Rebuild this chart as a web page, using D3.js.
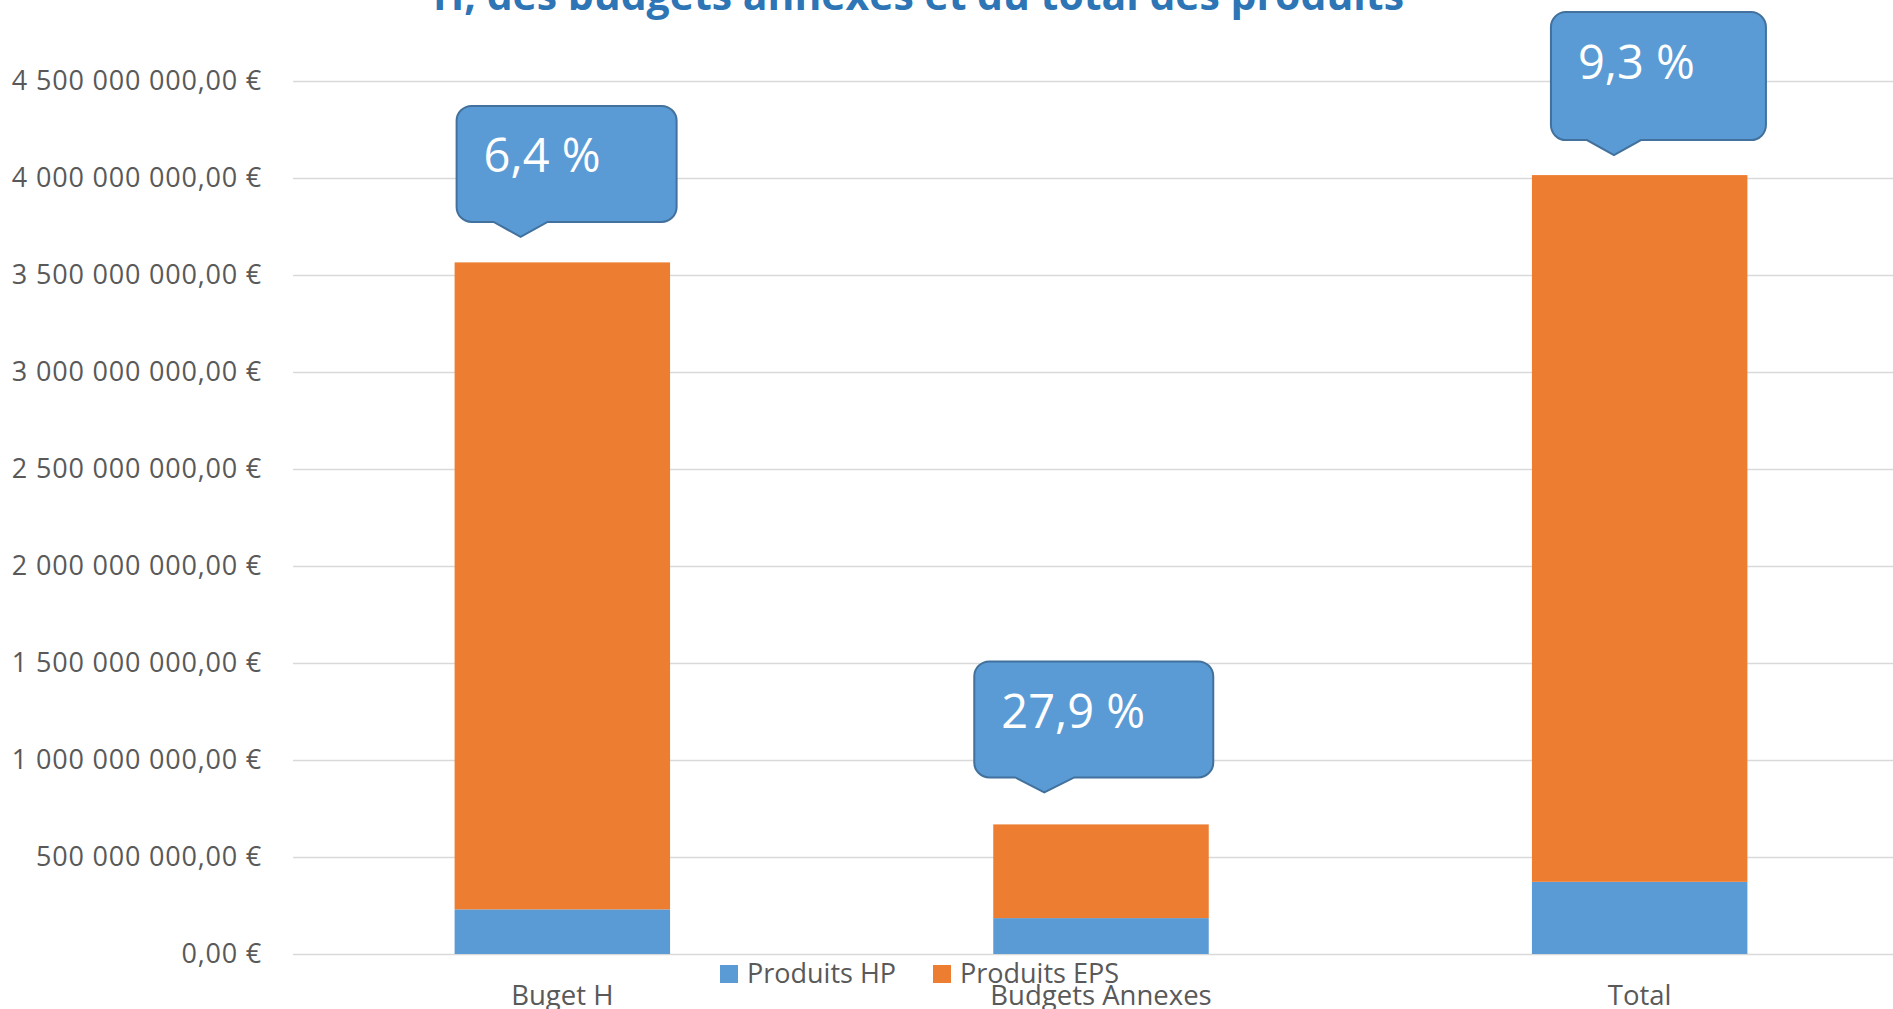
<!DOCTYPE html>
<html lang="fr">
<head>
<meta charset="utf-8">
<title>Produits HP / EPS</title>
<script src="https://cdn.jsdelivr.net/npm/d3@7"></script>
<style>
  body { margin: 0; background: #fff; }
  svg { display: block; font-family: "Open Sans", sans-serif; }
  .axis text { font-family: "Open Sans", sans-serif; font-size: 27.5px; fill: #595959; }
  .grid text { font-size: 27px; letter-spacing: 0.8px; }
  .grid line { stroke: #d9d9d9; stroke-width: 1.3px; }
  .legend text { font-size: 27px; fill: #595959; }
  .title { font-size: 41px; font-weight: bold; fill: #2e75b6; }
  .callout path { fill: #5b9bd5; stroke: #41719c; stroke-width: 2px; }
  .callout text { font-size: 47px; fill: #fff; }
</style>
</head>
<body>
<svg id="chart" width="1893" height="1009"></svg>
<script>
// data
var categories = ["Buget H", "Budgets Annexes", "Total"];
var produitsHP  = [230000000, 185000000, 372000000];
var produitsEPS = [3335000000, 483000000, 3643000000];
var percentLabels = ["6,4 %", "27,9 %", "9,3 %"];
var seriesNames = ["Produits HP", "Produits EPS"];
var yTicks = [0, 500e6, 1000e6, 1500e6, 2000e6, 2500e6, 3000e6, 3500e6, 4000e6, 4500e6];

var colors = { "Produits HP": "#5b9bd5", "Produits EPS": "#ed7d31" };

// callout box shapes (layout only)
var calloutBox = [
  { dx: 2,   w: 220, h: 116, gap: 40.5, t1: 37, tip: 64, t2: 91 },
  { dx: -19, w: 239, h: 116, gap: 47,   t1: 41, tip: 70, t2: 100 },
  { dx: 19,  w: 215, h: 128, gap: 35,   t1: 36, tip: 63, t2: 90 }
];

var svg = d3.select("#chart");
var plotLeft = 293, plotRight = 1909, plotTop = 81, plotBottom = 954;

var rows = categories.map(function(c, i) {
  return { cat: c, "Produits HP": produitsHP[i], "Produits EPS": produitsEPS[i] };
});

var x = d3.scaleBand()
  .domain(categories)
  .range([plotLeft, plotRight])
  .paddingInner(0.6)
  .paddingOuter(0.3);

var y = d3.scaleLinear()
  .domain([0, 4500e6])
  .range([plotBottom, plotTop]);

var fr = d3.formatLocale({ decimal: ",", thousands: " ", grouping: [3], currency: ["", " €"] });
var euro = fr.format("$,.2f");

// grid + y axis
var yAxis = d3.axisLeft(y)
  .tickValues(yTicks)
  .tickSize(-(plotRight - plotLeft))
  .tickPadding(31)
  .tickFormat(euro);

svg.append("g")
  .attr("class", "axis grid")
  .attr("transform", "translate(" + plotLeft + ",0)")
  .call(yAxis)
  .call(function(g) { g.select(".domain").remove(); });

// stacked bars
var stack = d3.stack().keys(seriesNames)(rows);

svg.append("g").selectAll("g")
  .data(stack)
  .enter()
  .append("g")
  .attr("fill", function(d) { return colors[d.key]; })
  .selectAll("rect")
  .data(function(d) { return d; })
  .enter()
  .append("rect")
  .attr("x", function(d) { return x(d.data.cat); })
  .attr("width", x.bandwidth())
  .attr("y", function(d) { return y(d[1]); })
  .attr("height", function(d) { return y(d[0]) - y(d[1]); });

// x axis labels
svg.append("g")
  .attr("class", "axis")
  .attr("transform", "translate(0," + plotBottom + ")")
  .call(d3.axisBottom(x).tickSize(0).tickPadding(31))
  .call(function(g) { g.select(".domain").remove(); });

// callouts
function calloutPath(bx, by, b) {
  var r = 15, w = b.w, h = b.h, tipY = by + h + 15;
  return "M" + (bx + r) + "," + by +
    "H" + (bx + w - r) +
    "A" + r + "," + r + " 0 0 1 " + (bx + w) + "," + (by + r) +
    "V" + (by + h - r) +
    "A" + r + "," + r + " 0 0 1 " + (bx + w - r) + "," + (by + h) +
    "H" + (bx + b.t2) +
    "L" + (bx + b.tip) + "," + tipY +
    "L" + (bx + b.t1) + "," + (by + h) +
    "H" + (bx + r) +
    "A" + r + "," + r + " 0 0 1 " + bx + "," + (by + h - r) +
    "V" + (by + r) +
    "A" + r + "," + r + " 0 0 1 " + (bx + r) + "," + by + "Z";
}

var call = svg.append("g").attr("class", "callout")
  .selectAll("g")
  .data(rows)
  .enter()
  .append("g");

call.append("path")
  .attr("d", function(d, i) {
    var b = calloutBox[i];
    var total = d["Produits HP"] + d["Produits EPS"];
    var bx = x(d.cat) + b.dx;
    var by = y(total) - b.gap - b.h;
    return calloutPath(bx, by, b);
  });

call.append("text")
  .attr("x", function(d, i) { return x(d.cat) + calloutBox[i].dx + 27; })
  .attr("y", function(d, i) {
    var b = calloutBox[i];
    var total = d["Produits HP"] + d["Produits EPS"];
    return y(total) - b.gap - b.h + 66.5;
  })
  .text(function(d, i) { return percentLabels[i]; });

// legend
var legendX = [720, 933];
var legend = svg.append("g").attr("class", "legend")
  .selectAll("g")
  .data(seriesNames)
  .enter()
  .append("g")
  .attr("transform", function(d, i) { return "translate(" + legendX[i] + ",965)"; });

legend.append("rect")
  .attr("width", 18)
  .attr("height", 18)
  .attr("fill", function(d) { return colors[d]; });

legend.append("text")
  .attr("x", 27)
  .attr("y", 18)
  .text(function(d) { return d; });

// title (only its second line is visible)
svg.append("text")
  .attr("class", "title")
  .attr("x", 433)
  .attr("y", 10)
  .attr("textLength", 971)
  .attr("lengthAdjust", "spacingAndGlyphs")
  .text("H, des budgets annexes et du total des produits");
</script>
</body>
</html>
